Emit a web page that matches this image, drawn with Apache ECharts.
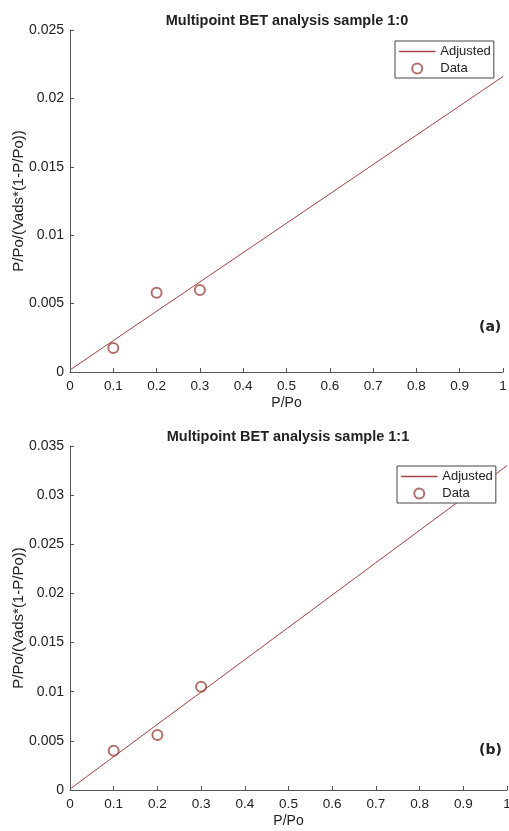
<!DOCTYPE html>
<html>
<head>
<meta charset="utf-8">
<script src="https://cdn.jsdelivr.net/npm/echarts@6/dist/echarts.min.js"></script>
<style>
  html, body { margin: 0; padding: 0; background: #fff; }
  #chart { width: 509px; height: 831px; }
</style>
</head>
<body>
<div id="chart"></div>
<script>
// panel (a): sample 1:0
const dataA = [[0.1, 0.00175], [0.2, 0.0058], [0.3, 0.006]];
const fitA = [[0, 0.00015], [1, 0.0216]];
// panel (b): sample 1:1
const dataB = [[0.1, 0.004], [0.2, 0.0056], [0.3, 0.0105]];
const fitB = [[0, 0.0001], [1, 0.033]];

const xTickMax = 1;
const yMaxA = 0.025;
const yMaxB = 0.035;

const font = 'Liberation Sans, Arial, sans-serif';
const lineColor = '#a3413d';
const dotColor = '#9b4c45';

const chart = echarts.init(document.getElementById('chart'));

function xAxis(gridIndex) {
    return {
        type: 'value', gridIndex, min: 0, max: xTickMax, interval: 0.1,
        name: 'P/Po', nameLocation: 'middle', nameGap: 24,
        nameTextStyle: { fontFamily: font, fontSize: 14, color: '#222' },
        axisLine: { show: true, lineStyle: { color: '#555', width: 1 } },
        axisTick: { show: true, inside: true, length: 4, lineStyle: { color: '#555' } },
        axisLabel: { fontFamily: font, fontSize: 13.5, color: '#222', margin: 7 },
        splitLine: { show: false }
    };
}

function yAxis(gridIndex, max) {
    return {
        type: 'value', gridIndex, min: 0, max: max, interval: 0.005,
        name: 'P/Po/(Vads*(1-P/Po))', nameLocation: 'middle', nameGap: 44,
        nameMoveOverlap: false,
        nameTextStyle: { fontFamily: font, fontSize: 15, color: '#222' },
        axisLine: { show: true, lineStyle: { color: '#555', width: 1 } },
        axisTick: { show: true, inside: true, length: 4, lineStyle: { color: '#555' } },
        axisLabel: { fontFamily: font, fontSize: 14, color: '#222', margin: 6 },
        splitLine: { show: false }
    };
}

function legend(left, top) {
    return {
        orient: 'vertical', left, top,
        backgroundColor: '#fff',
        borderColor: '#444', borderWidth: 1, borderRadius: 0,
        padding: [4, 3, 3, 4], itemGap: 4,
        itemWidth: 36, itemHeight: 10,
        textStyle: { fontFamily: font, fontSize: 13, color: '#222' },
        data: [
            { name: 'Adjusted', icon: 'path://M0,0 L40,0 L40,1 L0,1 Z',
              itemStyle: { color: lineColor, borderColor: lineColor, borderWidth: 0.5 } },
            { name: 'Data', icon: 'emptyCircle',
              itemStyle: { color: dotColor, borderColor: dotColor, borderWidth: 1.2 } }
        ],
        selectedMode: false
    };
}

chart.setOption({
    animation: false,
    title: [
        { text: 'Multipoint BET analysis sample 1:0', left: 282, top: 8, textAlign: 'center',
          textStyle: { fontFamily: font, fontSize: 14.5, fontWeight: 'bold', color: '#222' } },
        { text: 'Multipoint BET analysis sample 1:1', left: 283, top: 424, textAlign: 'center',
          textStyle: { fontFamily: font, fontSize: 14.5, fontWeight: 'bold', color: '#222' } },
        { text: '(a)', left: 474, top: 315,
          textStyle: { fontFamily: 'DejaVu Sans', fontSize: 14, fontWeight: 'bold', color: '#222' } },
        { text: '(b)', left: 474, top: 738,
          textStyle: { fontFamily: 'DejaVu Sans', fontSize: 14, fontWeight: 'bold', color: '#222' } }
    ],
    legend: [legend(395, 41), legend(397, 466)],
    grid: [
        { left: 70, right: 6, top: 30, height: 342, outerBoundsMode: 'none', containLabel: false },
        { left: 70, right: 2, top: 446, height: 344, outerBoundsMode: 'none', containLabel: false }
    ],
    xAxis: [xAxis(0), xAxis(1)],
    yAxis: [yAxis(0, yMaxA), yAxis(1, yMaxB)],
    series: [
        { name: 'Adjusted', type: 'line', xAxisIndex: 0, yAxisIndex: 0, data: fitA,
          symbol: 'none', lineStyle: { color: lineColor, width: 1 }, itemStyle: { color: lineColor } },
        { name: 'Data', type: 'scatter', xAxisIndex: 0, yAxisIndex: 0, data: dataA,
          symbol: 'emptyCircle', symbolSize: 10,
          itemStyle: { color: dotColor, borderWidth: 1.2 } },
        { name: 'Adjusted', type: 'line', xAxisIndex: 1, yAxisIndex: 1, data: fitB,
          symbol: 'none', lineStyle: { color: lineColor, width: 1 }, itemStyle: { color: lineColor } },
        { name: 'Data', type: 'scatter', xAxisIndex: 1, yAxisIndex: 1, data: dataB,
          symbol: 'emptyCircle', symbolSize: 10,
          itemStyle: { color: dotColor, borderWidth: 1.2 } }
    ]
});
</script>
</body>
</html>
